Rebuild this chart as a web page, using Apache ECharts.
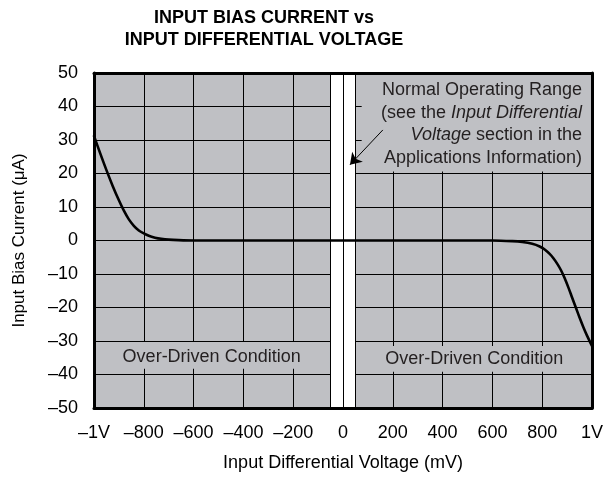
<!DOCTYPE html>
<html>
<head>
<meta charset="utf-8">
<script src="https://cdn.jsdelivr.net/npm/echarts@6/dist/echarts.min.js"></script>
<style>html,body{margin:0;padding:0;background:#fff}#c{width:607px;height:477px}</style>
</head>
<body>
<div id="c"></div>
<script>
// ---- data ----
const voltageMV = [-1000, -975, -950, -925, -900, -880, -860, -840, -820, -800, -780, -755, -730, -700, -660, -600, -400, -200, 0, 200, 400, 600, 680, 720, 760, 790, 810, 830, 845, 860, 875, 890, 905, 920, 935, 950, 965, 980, 1000];
const biasCurrentUA = [31.2, 26, 21, 16.3, 12, 8.9, 6.3, 4.4, 3.0, 2.1, 1.4, 0.85, 0.5, 0.25, 0.1, 0, 0, 0, 0, 0, 0, 0, -0.2, -0.45, -1.0, -1.8, -2.7, -4.0, -5.3, -6.9, -8.8, -11.2, -14, -17, -20, -23, -25.8, -28.4, -31.5];

const xTickValues = [-1000, -800, -600, -400, -200, 0, 200, 400, 600, 800, 1000];
const xTickLabels = ['\u20131V', '\u2013800', '\u2013600', '\u2013400', '\u2013200', '0', '200', '400', '600', '800', '1V'];
const yTickValues = [-50, -40, -30, -20, -10, 0, 10, 20, 30, 40, 50];
const yTickLabels = ['\u201350', '\u201340', '\u201330', '\u201320', '\u201310', '0', '10', '20', '30', '40', '50'];

// annotation regions (data coordinates)
const normalBand = [-50, 50];
const arrowFrom = [160, 33];
const arrowTo = [28, 22.6];

const FONT = 'Arial, "Liberation Sans", Helvetica, sans-serif';
const GREY = '#bfc0c4';
const TXT = '#231f20';

const chart = echarts.init(document.getElementById('c'), null, {renderer: 'canvas'});

function lab(list, vals) {
  return function (v) { const i = vals.indexOf(Math.round(v)); return i >= 0 ? list[i] : ''; };
}

const borderAxisX = (pos) => ({
  type: 'value', min: -1000, max: 1000, interval: 200, position: pos, z: 10,
  axisLine: {show: true, onZero: false, lineStyle: {color: '#000', width: 3}},
  axisTick: {show: false}, axisLabel: {show: false}, splitLine: {show: false}
});
const borderAxisY = (pos) => ({
  type: 'value', min: -50, max: 50, interval: 10, position: pos, z: 10,
  axisLine: {show: true, onZero: false, lineStyle: {color: '#000', width: 3}},
  axisTick: {show: false}, axisLabel: {show: false}, splitLine: {show: false}
});

const option = {
  animation: false,
  backgroundColor: '#fff',
  textStyle: {fontFamily: FONT},
  graphic: [{
    type: 'text', x: 264, y: 7, silent: true,
    style: {
      text: 'INPUT BIAS CURRENT vs\nINPUT DIFFERENTIAL VOLTAGE',
      align: 'center', verticalAlign: 'top',
      font: 'bold 18px ' + FONT, lineHeight: 22, fill: '#000'
    }
  }],
  grid: {left: 94, right: 15, top: 73, bottom: 68, show: true, backgroundColor: GREY, borderWidth: 0},
  xAxis: [{
    type: 'value', min: -1000, max: 1000, interval: 200, position: 'bottom',
    name: 'Input Differential Voltage (mV)', nameLocation: 'middle', nameGap: 46,
    nameTextStyle: {fontSize: 18, color: '#000', fontFamily: FONT},
    axisLine: {show: false}, axisTick: {show: false},
    axisLabel: {fontSize: 18, color: '#000', margin: 16, fontFamily: FONT, formatter: lab(xTickLabels, xTickValues)},
    splitLine: {show: true, lineStyle: {color: '#000', width: 1}}
  }, borderAxisX('top'), borderAxisX('bottom')],
  yAxis: [{
    type: 'value', min: -50, max: 50, interval: 10, position: 'left',
    name: 'Input Bias Current (\u03bcA)', nameLocation: 'middle', nameGap: 66,
    nameTextStyle: {fontSize: 17, color: '#000', fontFamily: FONT},
    axisLine: {show: false}, axisTick: {show: false},
    axisLabel: {fontSize: 18, color: '#000', margin: 16, fontFamily: FONT, formatter: lab(yTickLabels, yTickValues)},
    splitLine: {show: true, lineStyle: {color: '#000', width: 1}}
  }, borderAxisY('left'), borderAxisY('right')],
  series: [
    {
      type: 'line', data: [], z: 1, silent: true,
      markArea: {
        silent: true,
        data: [
          [{xAxis: normalBand[0], yAxis: -50, itemStyle: {color: '#fff'}}, {xAxis: normalBand[1], yAxis: 50}],
          [{xAxis: 75, yAxis: 20.6, itemStyle: {color: GREY},
            label: {
              show: true, position: 'insideRight', distance: 10, offset: [0, 2],
              formatter: '{n|Normal Operating Range}\n{n|(see the }{i|Input Differential}\n{i|Voltage}{n| section in the}\n{n|Applications Information)}',
              rich: {
                n: {fontSize: 18, color: TXT, fontFamily: FONT, lineHeight: 22.5, align: 'right'},
                i: {fontSize: 18, color: TXT, fontFamily: FONT, fontStyle: 'italic', lineHeight: 22.5, align: 'right'}
              }
            }}, {xAxis: 1000, yAxis: 50}],
          [{xAxis: -1000, yAxis: -30.3, itemStyle: {color: GREY},
            label: {show: true, position: 'inside', offset: [0, 2], fontSize: 18, color: TXT, fontFamily: FONT, formatter: 'Over-Driven Condition'}},
           {xAxis: -55, yAxis: -38.3}],
          [{xAxis: 55, yAxis: -31.5, itemStyle: {color: GREY},
            label: {show: true, position: 'inside', fontSize: 18, color: TXT, fontFamily: FONT, formatter: 'Over-Driven Condition'}},
           {xAxis: 1000, yAxis: -39.2}]
        ]
      }
    },
    {
      type: 'line', data: [], z: 3, silent: true,
      markLine: {
        silent: true, symbol: ['none', 'none'], label: {show: false},
        lineStyle: {color: '#000', width: 1, type: 'solid'},
        data: [
          {xAxis: normalBand[0]}, {xAxis: 0}, {xAxis: normalBand[1]},
          [{coord: arrowFrom, symbol: 'none'}, {coord: arrowTo, symbol: 'arrow', symbolSize: 11}]
        ]
      }
    },
    {
      type: 'line', z: 5, silent: true,
      data: voltageMV.map((v, i) => [v, biasCurrentUA[i]]),
      showSymbol: false, smooth: 0.3,
      lineStyle: {color: '#000', width: 2.6, cap: 'round', join: 'round'}
    }
  ]
};
chart.setOption(option);
</script>
</body>
</html>
